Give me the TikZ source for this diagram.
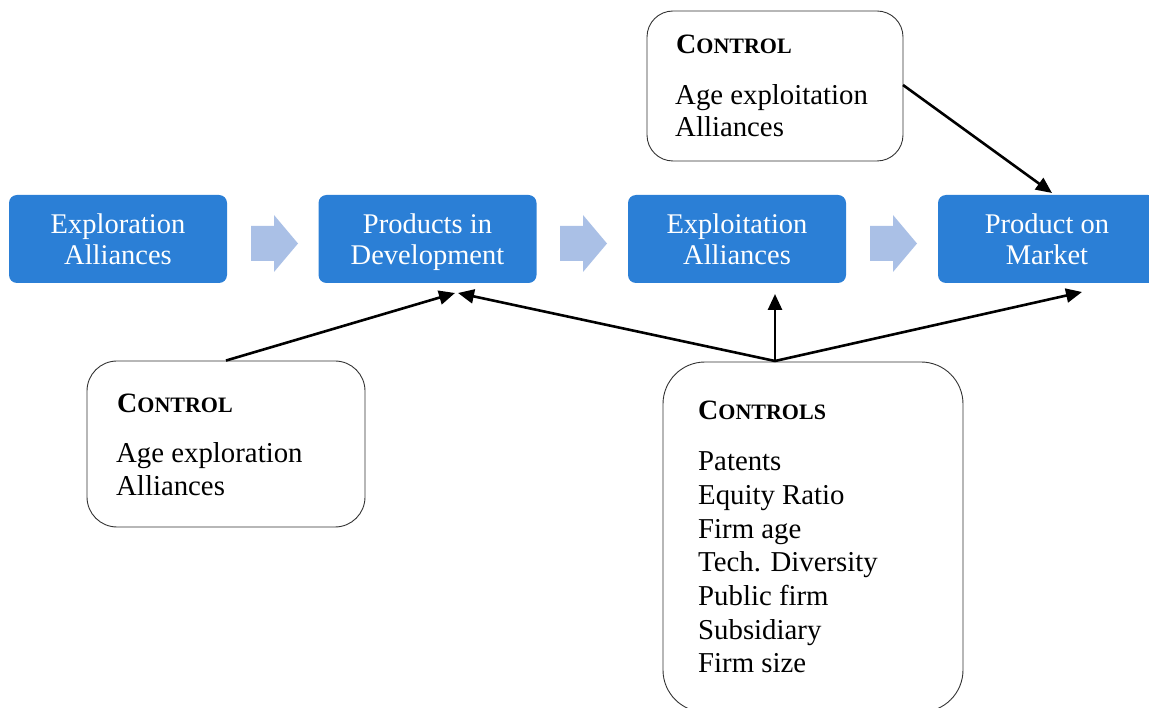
\documentclass[tikz,border=0pt]{standalone}
\usepackage{fontspec}
\setmainfont{Liberation Serif}
\usetikzlibrary{arrows.meta}
\definecolor{boxblue}{RGB}{43,127,214}
\definecolor{chev}{RGB}{170,192,230}
\newcommand{\hdsc}[2]{{\bfseries\fontsize{28}{30}\selectfont #1\fontsize{22}{30}\selectfont #2}}
\newcommand{\topst}{\rule{0pt}{30pt}}
\newcommand{\botst}{\rule[-9.5pt]{0pt}{9.5pt}}
\begin{document}
\begin{tikzpicture}[x=1pt,y=-1pt,
  stage/.style={draw=none, fill=boxblue, rounded corners=8pt, text=white, align=center,
    font=\fontsize{28.5}{31}\selectfont, minimum width=218pt, minimum height=88pt, inner sep=0pt},
  ctrlbox/.style={draw=black!80, line width=0.9pt, rounded corners=#1, inner sep=0pt},
  txt/.style={anchor=base west, inner sep=0pt, font=\fontsize{28.8}{32}\selectfont},
  conn/.style={line width=2.6pt, -{Triangle[length=16pt,width=14pt]}},
  chevron/.style={fill=chev, draw=none}
]
\useasboundingbox (0,0) rectangle (1149,708);
\clip (0,0) rectangle (1149,708);

% stage boxes
\node[stage] (b1) at (118,239) {\topst Exploration\\Alliances\botst};
\node[stage] (b2) at (427.5,239) {\topst Products in\\Development\botst};
\node[stage] (b3) at (737,239) {\topst Exploitation\\Alliances\botst};
\node[stage] (b4) at (1047,239) {\topst Product on\\Market\botst};

% chevron arrows
\foreach \x in {251,560,870}{
  \fill[chevron] (\x,226) -- (\x+23,226) -- (\x+23,215) -- (\x+47,243.5) -- (\x+23,272) -- (\x+23,261) -- (\x,261) -- cycle;
}

% control boxes
\node[ctrlbox=26pt, minimum width=256pt, minimum height=150pt] (ctop) at (775,86) {};
\node[ctrlbox=30pt, minimum width=278pt, minimum height=166pt] (cleft) at (226,444) {};
\node[ctrlbox=42pt, minimum width=300pt, minimum height=350pt] (cright) at (813,537) {};

% texts top box
\node[txt] (ct0) at (676,54) {\hdsc{C}{ONTROL}};
\node[txt] (ct1) at (675,105) {Age exploitation};
\node[txt] (ct2) at (675,137) {Alliances};

% texts left box
\node[txt] (cl0) at (117,413) {\hdsc{C}{ONTROL}};
\node[txt] (cl1) at (116,463) {Age exploration};
\node[txt] (cl2) at (116,496) {Alliances};

% texts right box
\node[txt] (cr0) at (698,420) {\hdsc{C}{ONTROLS}};
\foreach \t [count=\i] in {Patents,Equity Ratio,Firm age,Tech. Diversity,Public firm,Subsidiary,Firm size}{
  \node[txt] (cr\i) at (698,{471+33.6*(\i-1)}) {\t};
}

% connector endpoints
\coordinate (src) at (775,361);
\coordinate (t2a) at (455,293);
\coordinate (t2b) at (458,293);
\coordinate (t3) at (775,294);
\coordinate (t4) at (1082,292);
\coordinate (t4top) at (1052,193);
\coordinate (stop) at (903,85);

\draw[conn] (cleft.north) -- (t2a);
\draw[conn] (src) -- (t2b);
\draw[conn] (src) -- (t3);
\draw[conn] (src) -- (t4);
\draw[conn] (stop) -- (t4top);
\end{tikzpicture}
\end{document}
